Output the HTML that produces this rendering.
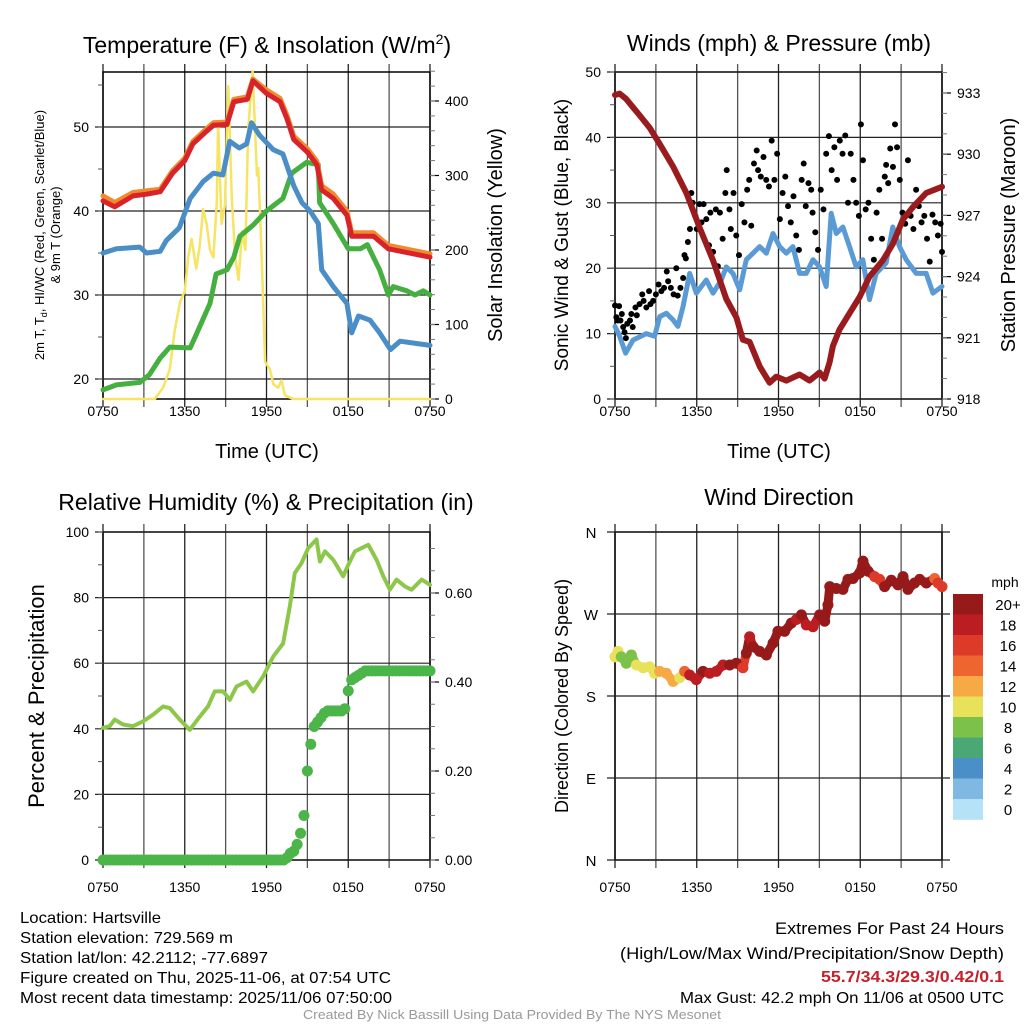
<!DOCTYPE html>
<html><head><meta charset="utf-8"><style>
html,body{margin:0;padding:0;background:#fff;}
svg{display:block;font-family:"Liberation Sans",sans-serif;}
</style></head><body>
<svg id="chart" width="1024" height="1024" viewBox="0 0 1024 1024" xmlns="http://www.w3.org/2000/svg">
<rect width="1024" height="1024" fill="#fff"/>
<g id="layer"></g>
<g font-size="20" fill="#000" text-anchor="middle">
<text x="267" y="53" font-size="23">Temperature (F) &amp; Insolation (W/m<tspan font-size="14" dy="-9">2</tspan><tspan dy="9">)</tspan></text>
<text x="779" y="51" font-size="23">Winds (mph) &amp; Pressure (mb)</text>
<text x="266" y="510" font-size="23">Relative Humidity (%) &amp; Precipitation (in)</text>
<text x="779" y="505" font-size="23">Wind Direction</text>
<text x="267" y="458">Time (UTC)</text>
<text x="779" y="458">Time (UTC)</text>
<text transform="translate(44,235) rotate(-90)" font-size="13">2m T, T<tspan font-size="9" dy="3">d</tspan><tspan dy="-3">, HI/WC (Red, Green, Scarlet/Blue)</tspan></text>
<text transform="translate(60,235) rotate(-90)" font-size="13">&amp; 9m T (Orange)</text>
<text transform="translate(502,235) rotate(-90)">Solar Insolation (Yellow)</text>
<text transform="translate(568,235) rotate(-90)" font-size="19">Sonic Wind &amp; Gust (Blue, Black)</text>
<text transform="translate(1015,235) rotate(-90)">Station Pressure (Maroon)</text>
<text transform="translate(44,696) rotate(-90)" font-size="22">Percent &amp; Precipitation</text>
<text transform="translate(568,696) rotate(-90)" font-size="18">Direction (Colored By Speed)</text>
</g>
<g font-size="16" fill="#000" lengthAdjust="spacingAndGlyphs">
<text x="20" y="923" textLength="141" lengthAdjust="spacingAndGlyphs">Location: Hartsville</text>
<text x="20" y="943" textLength="213" lengthAdjust="spacingAndGlyphs">Station elevation: 729.569 m</text>
<text x="20" y="963" textLength="248" lengthAdjust="spacingAndGlyphs">Station lat/lon: 42.2112; -77.6897</text>
<text x="20" y="983" textLength="371" lengthAdjust="spacingAndGlyphs">Figure created on Thu, 2025-11-06, at 07:54 UTC</text>
<text x="20" y="1003" textLength="372" lengthAdjust="spacingAndGlyphs">Most recent data timestamp: 2025/11/06 07:50:00</text>
<text x="1004" y="934" text-anchor="end" font-size="17" textLength="229" lengthAdjust="spacingAndGlyphs">Extremes For Past 24 Hours</text>
<text x="1004" y="959" text-anchor="end" font-size="17" textLength="384" lengthAdjust="spacingAndGlyphs">(High/Low/Max Wind/Precipitation/Snow Depth)</text>
<text x="1004" y="982" text-anchor="end" font-size="16" font-weight="bold" fill="#c8202a" textLength="183" lengthAdjust="spacingAndGlyphs">55.7/34.3/29.3/0.42/0.1</text>
<text x="1004" y="1003" text-anchor="end" font-size="16" textLength="324" lengthAdjust="spacingAndGlyphs">Max Gust: 42.2 mph On 11/06 at 0500 UTC</text>
<text x="303" y="1019" font-size="13" fill="#999" textLength="418" lengthAdjust="spacingAndGlyphs">Created By Nick Bassill Using Data Provided By The NYS Mesonet</text>
</g>
</svg>
<script>
// ---------- data ----------
const xTickLabels = ["0750","1350","1950","0150","0750"];
const xTickHours = [0,6,12,18,24];
const tempTicks = [20,30,40,50];
const solarTicks = [0,100,200,300,400];
const windTicks = [0,10,20,30,40,50];
const presTicks = [918,921,924,927,930,933];
const rhTicks = [0,20,40,60,80,100];
const precipTicks = [0,0.2,0.4,0.6];
const dirTicks = [0,90,180,270,360];
const dirLabels = ["N","E","S","W","N"];
const speedBins = ["0","2","4","6","8","10","12","14","16","18","20+"];
const speedColors = ["#b6e2f7","#7fb9e3","#4a8fc7","#4aa874","#7cc24a","#e8e25a","#f6a945","#ef6530","#dd3a29","#bb1d23","#961a1a"];

const redT = [0,0.86,2.2,3.2,4.2,5.1,6.0,6.6,7.6,8.1,9.1,9.6,10.6,11.0,12.0,13.0,13.5,14.0,15.0,15.7,16.05,16.9,17.9,18.25,19.85,20.95,24];
const redV = [41.2,40.5,41.8,42,42.3,44.5,46,48,49.5,50.2,50.3,53,53.3,55.5,54,53,51,48.5,47,45.5,42.5,41.5,39.5,37,37,35.5,34.5];
const orangeV = [41.8,41.0,42.2,42.4,42.6,44.8,46.3,48.3,49.8,50.5,50.6,53.3,53.6,55.7,54.4,53.4,51.4,48.9,47.4,45.9,43.0,42.0,40.0,37.4,37.4,35.9,34.9];
const blueT = [0,0.98,2.7,3.2,4.2,4.65,5.6,6.4,7.35,8.1,8.8,9.3,10.0,10.55,10.9,11.5,12.5,13.2,14.0,14.6,15.2,15.8,16.05,16.9,17.9,18.25,18.75,19.6,20.3,21.1,21.8,24];
const blueV = [35,35.5,35.7,35,35.2,36.5,38,41.5,43.5,44.5,44.3,48.3,47.5,48,50.5,49,47.3,46.8,43,41,40,38.5,33,31,29,25.5,27.5,27,25.5,23.5,24.5,24];
const greenT = [0,0.98,2.7,3.4,4.2,4.9,6.4,6.9,7.85,8.3,9.1,9.6,10.05,11.0,12.0,13.2,13.85,14.95,15.8,15.9,16.9,18.0,18.9,19.4,20.3,20.95,21.3,22.3,22.9,23.5,24];
const greenV = [18.7,19.3,19.6,20.5,22.5,23.8,23.7,25.5,29,32.5,33,34.5,37,38.3,40,41.5,44.5,45.8,45.5,41,38.5,35.5,35.5,36,33,30,31,30.5,30,30.5,30];
const solarT = [0,3.8,4.4,4.9,5.25,5.65,6.0,6.25,6.5,6.85,7.1,7.35,7.6,7.85,8.1,8.35,8.45,8.7,8.95,9.2,9.45,9.7,9.95,10.2,10.45,10.65,10.98,11.3,11.4,11.65,11.9,12.25,12.5,12.85,13.1,13.35,13.95,24];
const solarV = [0,0,15,40,90,130,145,190,215,175,205,255,235,200,190,265,370,235,260,420,270,190,160,225,200,360,440,300,310,190,50,40,20,15,25,5,0,0];

const presT = [0,0.34,0.83,1.32,1.81,2.54,3.28,4.26,5.24,6.21,7.19,8.17,8.91,9.39,9.88,10.62,11.35,11.84,12.57,13.55,14.28,15.02,15.38,15.75,15.99,16.48,17.21,17.95,18.68,19.66,20.39,21.13,21.86,22.84,24];
const presV = [932.9,932.97,932.7,932.3,931.9,931.3,930.5,929.4,928.1,926.4,924.8,922.9,922.0,920.9,920.8,919.6,918.8,919.1,918.9,919.2,918.9,919.3,919.0,919.8,920.6,921.4,922.2,923.0,924.0,924.8,925.6,926.8,927.4,928.1,928.4];
const windT = [0,0.34,0.78,1.32,2.3,2.91,3.28,3.77,4.26,4.62,4.99,5.48,5.97,6.7,7.19,7.8,8.17,8.66,9.15,9.64,10.13,10.62,11.11,11.6,12.09,12.57,13.06,13.55,14.04,14.53,15.02,15.5,15.87,16.24,16.73,17.21,17.7,18.19,18.68,19.17,19.9,20.39,20.88,21.37,22.11,22.84,23.33,24];
const windV = [11.1,9.6,7,9,10,9.6,12.6,13.1,12.1,11.1,14.1,19.2,16.2,18.2,16.2,18.2,20.2,19.2,16.7,21.3,22.3,23.3,22.3,25.3,23.3,22.3,23.3,19.2,19.2,21.3,20.2,17.2,28.4,25.3,26.3,23.3,20.2,21.3,15.2,19.2,20.8,26.3,23.3,21.3,19.2,19.2,16.2,17.2];
const gustT = [0,0.1,0.2,0.3,0.4,0.5,0.6,0.7,0.8,0.9,1.1,1.2,1.3,1.5,1.6,1.8,2.0,2.1,2.3,2.5,2.6,2.8,3.0,3.2,3.4,3.6,3.8,3.9,4.1,4.3,4.5,4.6,4.8,5.0,5.1,5.2,5.35,5.5,5.6,5.7,5.9,6.0,6.2,6.35,6.5,6.7,6.9,7.0,7.2,7.4,7.55,7.7,7.9,8.1,8.2,8.4,8.5,8.7,8.9,9.1,9.3,9.5,9.7,9.85,10.0,10.2,10.4,10.5,10.7,10.9,11.1,11.3,11.5,11.7,11.9,12.1,12.3,12.5,12.7,12.9,13.1,13.3,13.5,13.7,13.85,14.0,14.2,14.4,14.5,14.7,14.9,15.1,15.3,15.5,15.7,15.9,16.1,16.3,16.5,16.7,16.9,17.1,17.3,17.5,17.7,17.9,18.05,18.2,18.4,18.6,18.8,19.0,19.2,19.4,19.6,19.8,19.9,20.05,20.2,20.4,20.55,20.7,20.9,21.1,21.3,21.5,21.7,21.9,22.1,22.3,22.5,22.7,22.9,23.1,23.3,23.5,23.7,23.9,24.0];
const gustV = [14.3,12.5,12,14.2,12,13,11,10.2,9.3,11.5,12,13,11,14,12.8,14.5,16,15,14,16.5,14.5,15,16,17.5,16.5,17,19.5,18,17,16,20,15.8,17,18.5,22,21.5,24,26,31.5,30,28,26,29.8,27,29.8,27.5,23.5,28.5,22.5,29,20.3,28.5,24.5,31.5,35,29,26,31.5,25,22,29.8,27,32,33.5,26.5,36,38,35,34,37,33.5,32.5,39.5,33.5,37.5,27.5,31.5,34,29.5,27,31,25,22.8,33.5,36,29.5,33,32,28.5,25.5,22.8,32,29,37.5,40.2,35,38.5,33.5,39.5,37.5,40.3,30,37.5,33.5,30,28,42,36.5,29,30,24.5,21.3,28.5,32,24.5,34,35.8,33,38.3,35.5,42,38.5,33.5,28.5,26.8,36.5,28,26,32,29.5,27,28,24.5,21,28.2,27,25,26.8,22.5];

const rhT = [0,0.49,0.86,1.47,2.2,2.94,3.67,4.41,4.9,5.63,6.37,7.1,7.71,8.2,8.82,9.31,9.8,10.53,11.02,11.76,12.49,13.22,13.71,14.08,14.57,15.06,15.67,15.92,16.29,16.9,17.63,18,18.49,18.98,19.47,20.08,20.57,21.06,21.55,22.16,22.65,23.39,24];
const rhV = [40.3,40.8,42.8,41.3,40.8,42.3,44.3,46.8,46.3,42.8,39.7,43.7,46.8,51.4,51.4,48.8,52.9,54.4,51.4,56,62,66,77.3,87.5,90.5,95.1,97.7,91,94.1,91.5,86.5,90,94.1,95.1,96.1,91.5,86.5,82.4,85.5,83.4,82.4,85.5,83.9];
const precipStepHours = 0.25;
const precipV = [0,0,0,0,0,0,0,0,0,0,0,0,0,0,0,0,0,0,0,0,0,0,0,0,0,0,0,0,0,0,0,0,0,0,0,0,0,0,0,0,0,0,0,0,0,0,0,0,0,0,0,0,0,0,
0.005,0.015,0.02,0.035,0.06,0.1,0.2,0.26,0.3,0.31,0.32,0.33,0.335,0.335,0.335,0.335,0.335,0.34,0.38,0.405,0.41,0.415,0.42,
0.425,0.425,0.425,0.425,0.425,0.425,0.425,0.425,0.425,0.425,0.425,0.425,0.425,0.425,0.425,0.425,0.425,0.425,0.425,0.425];

const dirT = [0,0.22,0.46,0.83,1.2,1.57,2.06,2.54,2.91,3.28,3.77,4.26,4.75,5.11,5.48,5.97,6.46,6.95,7.44,7.93,8.42,8.91,9.39,9.64,9.88,10.13,10.62,11.11,11.6,11.96,12.45,12.94,13.31,13.68,14.04,14.53,15.02,15.39,15.63,15.76,16.24,16.73,17.1,17.47,17.96,18.2,18.57,19.06,19.42,19.79,20.28,20.77,21.14,21.5,21.99,22.36,22.85,23.46,23.71,24];
const dirV = [223,229,223,216,225,214,211,212,205,207,205,196,200,207,203,198,207,205,207,214,214,216,211,227,245,234,229,225,238,251,251,260,264,269,258,256,269,262,280,300,298,297,308,309,315,328,317,311,308,300,307,302,311,297,304,308,304,309,304,300];
const dirSpeed = [10,10,8,8,8,10,10,10,10,12,12,12,10,14,18,18,20,18,18,18,20,20,16,20,18,20,20,20,20,20,20,20,18,20,18,18,20,20,20,20,20,20,20,20,20,20,20,16,16,20,20,20,20,20,20,20,20,14,16,16];

// ---------- helpers ----------
const NS = "http://www.w3.org/2000/svg";
const layer = document.getElementById("layer");
function mk(tag, attrs, parent){
  const e = document.createElementNS(NS, tag);
  for (const k in attrs) e.setAttribute(k, attrs[k]);
  (parent||layer).appendChild(e);
  return e;
}
function txt(x,y,s,size,anchor,parent){
  const e = mk("text",{x:x,y:y,"font-size":size,"text-anchor":anchor,fill:"#000"},parent);
  e.textContent = s;
  return e;
}
function linear(d0,d1,r0,r1){ return v => r0 + (v-d0)*(r1-r0)/(d1-d0); }

const P1 = {x0:103,x1:430,y0:72,y1:399};
const P2 = {x0:615,x1:942,y0:72,y1:399};
const P3 = {x0:103,x1:430,y0:532,y1:860};
const P4 = {x0:615,x1:942,y0:532,y1:860};

function frame(P, name, labelY){
  const g = mk("g",{});
  
  
  const X = linear(0,24,P.x0,P.x1);
  for (let h=0; h<=24; h+=3){
    const x = X(h);
    const l = mk("line",{x1:x,x2:x,y1:P.y0-8,y2:P.y1+8,stroke:(h%6===0)?"#222":"#555","stroke-width":1.3},g);
    
    
  }
  xTickHours.forEach((h,i)=>{
    const t = txt(X(h), labelY, xTickLabels[i], 14, "middle", g);
    
    
  });
  const r = mk("rect",{x:P.x0,y:P.y0,width:P.x1-P.x0,height:P.y1-P.y0,fill:"none",stroke:"#000","stroke-width":1.5},g);
  
  
  return X;
}
function hgrid(P, ticks, Y, labels, name, minorStep, minorRange){
  const g = mk("g",{});
  
  
  ticks.forEach((v,i)=>{
    const y = Y(v);
    const l = mk("line",{x1:P.x0-8,x2:P.x1,y1:y,y2:y,stroke:"#222","stroke-width":1.2},g);
    
    
    const t = txt(P.x0-14, y+5, labels[i], 14, "end", g);
    
    
  });
  if (minorStep){
    for (let v=minorRange[0]; v<=minorRange[1]+1e-9; v+=minorStep){
      const y = Y(v);
      const m = mk("line",{x1:P.x0-5,x2:P.x0,y1:y,y2:y,stroke:"#555","stroke-width":1},g);
      
      
    }
  }
}
function rightAxis(P, ticks, Y, labels, name, minorStep, minorRange){
  const g = mk("g",{});
  
  
  ticks.forEach((v,i)=>{
    const y = Y(v);
    const l = mk("line",{x1:P.x1,x2:P.x1+9,y1:y,y2:y,stroke:"#000","stroke-width":1.2},g);
    
    
    const t = txt(P.x1+15, y+5, labels[i], 14, "start", g);
    
    
  });
  for (let v=minorRange[0]; v<=minorRange[1]+1e-9; v+=minorStep){
    const y = Y(v);
    const m = mk("line",{x1:P.x1,x2:P.x1+5,y1:y,y2:y,stroke:"#777","stroke-width":1},g);
    
    
  }
}
function path(T,V,X,Y,color,w,name){
  let d = "";
  T.forEach((t,i)=>{ d += (i?"L":"M") + X(t).toFixed(1) + "," + Y(V[i]).toFixed(1); });
  const p = mk("path",{d:d,fill:"none",stroke:color,"stroke-width":w,"stroke-linejoin":"round","stroke-linecap":"round"});
  
  
  return p;
}

// ---------- panel 1 ----------
const X1 = frame(P1, "temperature", 416);
const Y1 = linear(20,50,379,127);
const Y1r = linear(0,400,399,101);
hgrid(P1, tempTicks, Y1, tempTicks.map(String), "temperature", 5, [20,55]);
rightAxis(P1, solarTicks, Y1r, solarTicks.map(String), "insolation", 20, [0,440]);
path(solarT, solarV, X1, Y1r, "#f7e463", 2.5, "solar-insolation-line");
path(greenT, greenV, X1, Y1, "#45b03f", 5, "dewpoint-line");
path(blueT, blueV, X1, Y1, "#4a8ec8", 5, "heat-index-wind-chill-line");
path(redT, orangeV, X1, Y1, "#f08a2c", 5, "temperature-9m-line");
path(redT, redV, X1, Y1, "#d8232a", 5, "temperature-2m-line");

// ---------- panel 2 ----------
const X2 = frame(P2, "wind", 416);
const Y2 = linear(0,50,399,72);
const Y2r = linear(918,933,399,93);
hgrid(P2, windTicks, Y2, windTicks.map(String), "wind", 5, [0,50]);
rightAxis(P2, presTicks, Y2r, presTicks.map(String), "pressure", 1, [918,934]);
path(windT, windV, X2, Y2, "#5b9bd5", 5, "sonic-wind-line");
gustT.forEach((t,i)=>{
  const c = mk("circle",{cx:X2(t),cy:Y2(gustV[i]),r:3,fill:"#000"});
  
  
});
path(presT, presV, X2, Y2r, "#9a1b1e", 6, "station-pressure-line");

// ---------- panel 3 ----------
const X3 = frame(P3, "humidity", 892);
const Y3 = linear(0,100,860,532);
const Y3r = linear(0,0.6,860,593);
hgrid(P3, rhTicks, Y3, rhTicks.map(String), "humidity", 10, [0,100]);
rightAxis(P3, precipTicks, Y3r, precipTicks.map(v=>v.toFixed(2)), "precipitation", 0.05, [0,0.7]);
path(rhT, rhV, X3, Y3, "#8dc74a", 4, "relative-humidity-line");
precipV.forEach((v,i)=>{
  const c = mk("circle",{cx:X3(i*precipStepHours),cy:Y3r(v),r:5.5,fill:"#4cb54a"});
  
  
});

// ---------- panel 4 ----------
const X4 = frame(P4, "direction", 892);
const Y4 = linear(0,360,860,532);
const g4 = mk("g",{});


dirTicks.forEach((v,i)=>{
  const y = Y4(v);
  const l = mk("line",{x1:P4.x0-8,x2:P4.x1+8,y1:y,y2:y,stroke:"#222","stroke-width":1.2},g4);
  
  
  const t = txt(P4.x0-24, y+6, dirLabels[i], 15, "middle", g4);
  
  
});
function speedColor(s){ return speedColors[Math.min(10, Math.floor(s/2))]; }
for (let i=0;i<dirT.length-1;i++){
  const l = mk("line",{x1:X4(dirT[i]),y1:Y4(dirV[i]),x2:X4(dirT[i+1]),y2:Y4(dirV[i+1]),stroke:speedColor(dirSpeed[i]),"stroke-width":9,"stroke-linecap":"round"});
  
  
}
dirT.forEach((t,i)=>{
  const c = mk("circle",{cx:X4(t),cy:Y4(dirV[i]),r:5.5,fill:speedColor(dirSpeed[i])});
  
  
});
// colorbar
const cb = mk("g",{});


const cbTitle = txt(1005, 587, "mph", 14, "middle", cb);


speedBins.forEach((lab,i)=>{
  const idx = speedBins.length-1-i;
  const y = 594 + i*20.5;
  const r = mk("rect",{x:953,y:y,width:30,height:20.8,fill:speedColors[idx]},cb);
  
  
  const t = txt(1008, y+16, speedBins[idx], 15, "middle", cb);
  
  
});
</script>
</body></html>
